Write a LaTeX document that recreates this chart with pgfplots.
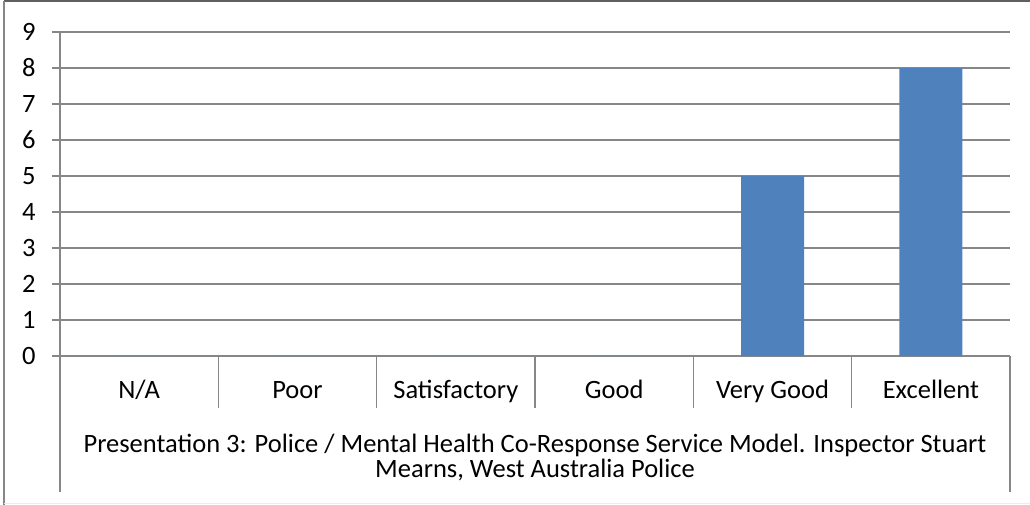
\documentclass[border=0pt]{standalone}
\usepackage{fontspec}
\setmainfont{Carlito}
\usepackage{pgfplots}
\pgfplotsset{compat=1.18}
\definecolor{barblue}{HTML}{4F81BD}
\definecolor{axgray}{HTML}{878787}
\newcommand{\chartfont}{\fontsize{26.5}{31}\selectfont}
\begin{document}
\begin{tikzpicture}[x=1pt,y=1pt]
\useasboundingbox (0,0) rectangle (1030,-505);
% outer chart frame
\draw[gray!75!black,line width=2pt] (4,-1) -- (1030,-1);
\draw[axgray,line width=2pt] (4,-1) -- (4,-505);
\draw[gray!15,line width=1pt] (4,-503.5) -- (1030,-503.5);
\begin{axis}[
    at={(60pt,-356pt)}, anchor=south west,
    scale only axis,
    width=950pt, height=324pt,
    xmin=-0.5, xmax=5.5,
    ymin=0, ymax=9,
    clip=false,
    axis x line*=bottom, axis y line*=left,
    axis line style={-,axgray,line width=1.3pt},
    ytick={0,...,9},
    ymajorgrids,
    grid style={axgray,line width=1.3pt},
    tick align=outside,
    major tick length=8pt,
    y tick style={axgray,line width=1.3pt},
    x tick style={draw=none},
    xtick={0,...,5},
    xticklabels={N/A,Poor,Satisfactory,Good,Very Good,Excellent},
    tick label style={font=\chartfont},
    /pgf/number format/assume math mode=true,
    yticklabel style={xshift=-13pt},
    xticklabel style={anchor=base,yshift=-34pt},
    ybar, bar width=63pt,
]
\addplot[fill=barblue,draw=none] coordinates {(0,0) (1,0) (2,0) (3,0) (4,5) (5,8)};
\pgfplotsinvokeforeach{0.5,1.5,2.5,3.5,4.5}{
  \draw[axgray,line width=1.3pt] (axis cs:#1,0) -- ([yshift=-52pt]axis cs:#1,0);
}
\draw[axgray,line width=1.3pt] (axis cs:-0.5,0) -- ([yshift=-136pt]axis cs:-0.5,0);
\draw[axgray,line width=1.3pt] (axis cs:5.5,0) -- ([yshift=-136pt]axis cs:5.5,0);
\node[anchor=base,font=\chartfont] at ([yshift=-96pt]axis cs:2.5,0)
  {Presentation 3: Police / Mental Health Co-Response Service Model. Inspector Stuart};
\node[anchor=base,font=\chartfont] at ([yshift=-121pt]axis cs:2.5,0)
  {Mearns, West Australia Police};
\end{axis}
\end{tikzpicture}
\end{document}
